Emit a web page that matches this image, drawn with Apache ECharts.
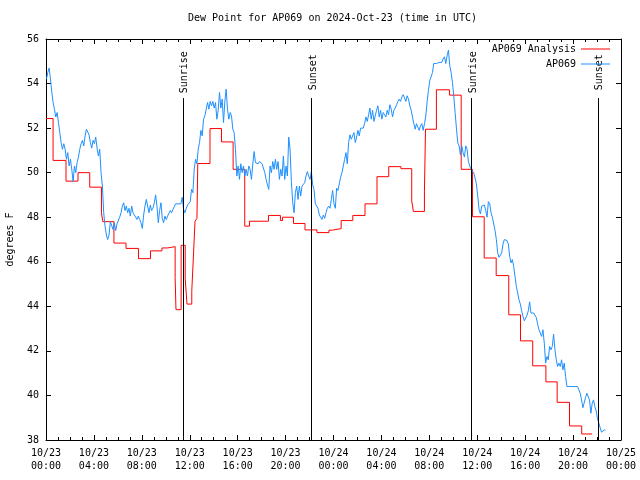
<!DOCTYPE html>
<html>
<head>
<meta charset="utf-8">
<script src="https://cdn.jsdelivr.net/npm/echarts@6/dist/echarts.min.js"></script>
<style>html,body{margin:0;padding:0;background:#fff}#c{width:640px;height:480px}</style>
</head>
<body>
<div id="c"></div>
<script>
// ---- data (hours since 2024-10-23 00:00 UTC, degrees F) ----
var titleText = 'Dew Point for AP069 on 2024-Oct-23 (time in UTC)';
var xTickLabels = ['10/23\n00:00','10/23\n04:00','10/23\n08:00','10/23\n12:00','10/23\n16:00','10/23\n20:00',
  '10/24\n00:00','10/24\n04:00','10/24\n08:00','10/24\n12:00','10/24\n16:00','10/24\n20:00','10/25\n00:00'];

// Analysis: level start hour / level value (step function)
var analysisHours = [0.0,0.59,1.67,2.67,3.65,4.63,4.74,5.67,6.68,7.72,8.72,9.68,10.14,10.78,10.85,11.28,11.62,11.77,
  12.17,12.31,12.44,12.6,12.67,13.69,14.65,15.62,16.59,16.99,18.57,19.57,19.74,20.66,21.62,22.62,23.62,23.91,
  24.64,25.61,26.63,27.63,28.61,29.63,30.53,30.67,31.59,31.68,32.59,33.68,34.66,35.6,36.58,37.58,38.63,39.61,
  40.63,41.73,42.67,43.7,44.72,45.59];
var analysisValues = [52.43,50.55,49.62,50.0,49.35,48.2,47.8,46.84,46.6,46.14,46.49,46.62,46.68,45.3,43.85,46.74,45.24,44.1,
  44.7,46.3,47.82,47.95,50.41,51.98,51.38,50.15,47.6,47.82,48.08,47.85,48.0,47.72,47.43,47.31,47.42,47.49,
  47.85,48.08,48.6,49.82,50.27,50.18,48.73,48.26,49.17,51.95,53.72,53.48,50.15,48.02,46.17,45.38,43.62,42.45,
  41.33,40.61,39.69,38.63,38.27,38.27];

// Station observations, sampled every 1/9 hour starting at 0.04 h
var obsStartHour = 0.04;
var obsStepHours = 1 / 9;
var obsValues = [
  54.2,54.5,54.7,54.2,53.6,53.15,52.85,52.5,52.7,52.25,
  51.8,51.35,51.05,51.3,51.05,50.6,50.9,50.3,50.6,50.15,
  49.6,50.3,50.0,50.45,50.7,51.05,51.3,51.45,51.2,51.65,
  51.95,52.0,51.7,51.35,51.1,51.45,51.3,51.6,51.1,50.75,
  51.05,50.0,49.4,48.2,47.6,47.2,47.0,47.2,47.8,47.75,
  47.45,47.75,47.4,47.7,47.75,48.0,48.2,48.5,48.65,48.3,
  48.5,48.2,48.4,48.05,48.5,48.2,48.1,48.05,47.9,48.05,
  47.9,47.75,47.5,48.1,48.5,48.8,48.5,48.2,48.55,48.3,
  48.4,48.65,49.0,48.5,47.75,48.3,48.65,47.95,47.75,48.05,
  47.9,48.05,48.05,48.3,48.2,48.35,48.3,48.6,48.6,48.6,
  48.6,48.6,48.9,48.35,48.2,48.4,48.55,
  48.5,48.7,49.25,49.1,50.15,50.6,50.4,51.05,51.35,51.9,
  51.65,52.4,52.55,52.85,53.15,52.85,53.2,53.0,53.2,52.9,
  53.15,52.4,52.8,53.6,52.9,53.3,52.25,53.2,53.75,52.85,
  52.4,52.7,52.55,51.95,51.8,51.05,49.85,50.3,49.7,50.4,
  50.0,50.3,49.85,50.15,49.85,50.3,50.15,49.7,50.4,50.95,
  50.45,50.4,50.4,50.5,50.45,50.4,50.45,50.0,49.7,49.45,
  49.25,50.3,50.0,50.5,50.15,50.6,50.15,50.5,49.7,50.15,
  49.85,50.75,49.7,50.3,49.85,51.6,51.05,49.6,48.65,48.2,
  49.1,49.4,48.8,49.4,48.95,49.4,49.45,49.55,49.85,50.05,
  49.85,49.7,50.05,49.45,49.25,48.6,48.5,48.4,48.1,48.05,
  47.9,48.1,47.95,48.2,48.4,48.5,
  48.4,48.8,49.2,48.6,48.4,49.3,49.2,49.5,49.8,50.0,
  50.3,50.6,50.9,50.4,51.35,51.7,51.5,51.65,51.8,51.35,
  51.6,51.9,51.65,52.0,52.05,52.0,52.2,52.5,52.3,52.6,
  52.9,52.4,52.8,52.3,52.55,52.8,53.0,52.5,52.8,52.4,
  52.7,52.6,52.5,52.8,52.6,53.05,52.85,52.5,52.8,52.9,
  53.05,53.2,53.3,53.2,53.4,53.5,53.45,53.2,53.45,53.3,
  53.0,52.8,52.5,52.2,51.95,52.2,52.05,51.9,52.1,52.2,
  51.9,52.2,52.55,53.2,53.7,54.15,54.3,54.5,54.9,54.9,
  54.9,54.9,54.95,54.95,54.95,55.1,55.2,54.9,55.25,55.5,
  54.8,54.5,54.05,53.45,52.7,52.0,51.35,51.2,50.8,51.2,
  50.9,50.7,51.2,51.05,50.5,50.3,50.15,50.1,
  50.0,49.95,49.5,48.95,48.35,48.15,48.5,48.55,48.55,48.3,
  48.0,48.7,48.6,48.2,48.0,48.0,47.4,47.0,46.4,46.2,
  46.25,46.4,46.8,47.0,47.0,46.95,46.8,46.25,45.95,46.1,
  45.8,45.35,44.9,44.6,44.3,44.1,43.8,43.55,43.35,43.4,
  43.6,43.8,44.2,43.7,43.7,43.7,43.7,43.5,43.2,42.95,
  42.9,42.65,42.95,42.35,41.45,41.75,41.6,42.2,42.05,42.2,
  42.75,42.05,41.6,41.3,41.45,41.3,41.6,41.15,41.45,40.85,
  40.4,40.4,40.4,40.4,40.4,40.4,40.4,40.4,40.4,40.35,
  40.1,39.8,39.45,39.45,39.9,40.1,40.1,39.8,39.2,39.65,
  39.8,39.5,39.3,38.95,38.75,38.55,38.35,38.4,38.45,38.45
];

// Sunrise / sunset markers
var sunHours = [11.42, 22.14, 35.49, 46.06];
var sunNames = ['Sunrise', 'Sunset', 'Sunrise', 'Sunset'];
var sunLineTop = 53.35;
var sunLabelValue = 54.55;

// ---- build ----
var FONT = 'DejaVu Sans Mono';
var analysisData = analysisHours.map(function (h, i) { return [h, analysisValues[i]]; });
var obsData = obsValues.map(function (v, i) { return [obsStartHour + i * obsStepHours, v]; });
var sunLines = sunHours.map(function (h) { return [{ coord: [h, 38] }, { coord: [h, sunLineTop] }]; });
var sunLabelData = sunHours.map(function (h, i) { return [h, sunLabelValue, sunNames[i]]; });

function xAxisBase(pos, showLabel) {
  return {
    type: 'value', position: pos, min: 0, max: 48, interval: 4,
    axisLine: { show: true, onZero: false, lineStyle: { color: '#000', width: 1 } },
    axisTick: { show: true, inside: true, length: 5, lineStyle: { color: '#000' } },
    minorTick: { show: true, splitNumber: 4, length: 3, lineStyle: { color: '#000' } },
    splitLine: { show: false },
    axisLabel: {
      show: showLabel, margin: 7, color: '#000', fontFamily: FONT, fontSize: 10, lineHeight: 13,
      formatter: function (v) { return xTickLabels[Math.round(v / 4)]; }
    }
  };
}
function yAxisBase(pos, showLabel) {
  var a = {
    type: 'value', position: pos, min: 38, max: 56, interval: 2,
    axisLine: { show: true, onZero: false, lineStyle: { color: '#000', width: 1 } },
    axisTick: { show: true, inside: true, length: 5, lineStyle: { color: '#000' } },
    splitLine: { show: false },
    axisLabel: { show: showLabel, margin: 7, color: '#000', fontFamily: FONT, fontSize: 10 }
  };
  if (showLabel) {
    a.name = 'degrees F';
    a.nameLocation = 'middle';
    a.nameRotate = 90;
    a.nameGap = 31;
    a.nameTextStyle = { color: '#000', fontFamily: FONT, fontSize: 10 };
  }
  return a;
}

var chart = echarts.init(document.getElementById('c'), null, { renderer: 'canvas' });
chart.setOption({
  animation: false,
  backgroundColor: '#fff',
  title: {
    text: titleText, left: 188, top: 13, padding: 0,
    textStyle: { color: '#000', fontFamily: FONT, fontSize: 10, fontWeight: 'normal' }
  },
  legend: {
    data: [{ name: 'AP069 Analysis', icon: 'rect' }, { name: 'AP069', icon: 'rect' }],
    orient: 'vertical', right: 30, top: 43, align: 'right',
    itemWidth: 29, itemHeight: 1, itemGap: 3, padding: 0,
    textStyle: { color: '#000', fontFamily: FONT, fontSize: 10, lineHeight: 12 }
  },
  grid: { left: 46, right: 19, top: 39, bottom: 40, containLabel: false, outerBoundsMode: 'none' },
  xAxis: [xAxisBase('bottom', true), xAxisBase('top', false)],
  yAxis: [yAxisBase('left', true), yAxisBase('right', false)],
  series: [
    {
      name: 'AP069 Analysis', type: 'line', step: 'end', data: analysisData,
      xAxisIndex: 0, yAxisIndex: 0, showSymbol: false, symbol: 'none',
      lineStyle: { color: '#ff0000', width: 1 }, itemStyle: { color: '#ff0000' },
      markLine: {
        silent: true, symbol: ['none', 'none'], label: { show: false },
        lineStyle: { color: '#000', width: 1, type: 'solid' }, data: sunLines
      }
    },
    {
      name: 'AP069', type: 'line', data: obsData,
      xAxisIndex: 0, yAxisIndex: 0, showSymbol: false, symbol: 'none',
      lineStyle: { color: '#1e90ff', width: 1 }, itemStyle: { color: '#1e90ff' }
    },
    {
      name: 'sun', type: 'scatter', data: sunLabelData, symbolSize: 1,
      itemStyle: { color: 'rgba(0,0,0,0)' }, silent: true,
      label: {
        show: true, position: 'inside', rotate: 90, color: '#000', opacity: 1,
        fontFamily: FONT, fontSize: 10, offset: [-1, 2],
        formatter: function (p) { return p.value[2]; }
      }
    }
  ]
});
</script>
</body>
</html>
